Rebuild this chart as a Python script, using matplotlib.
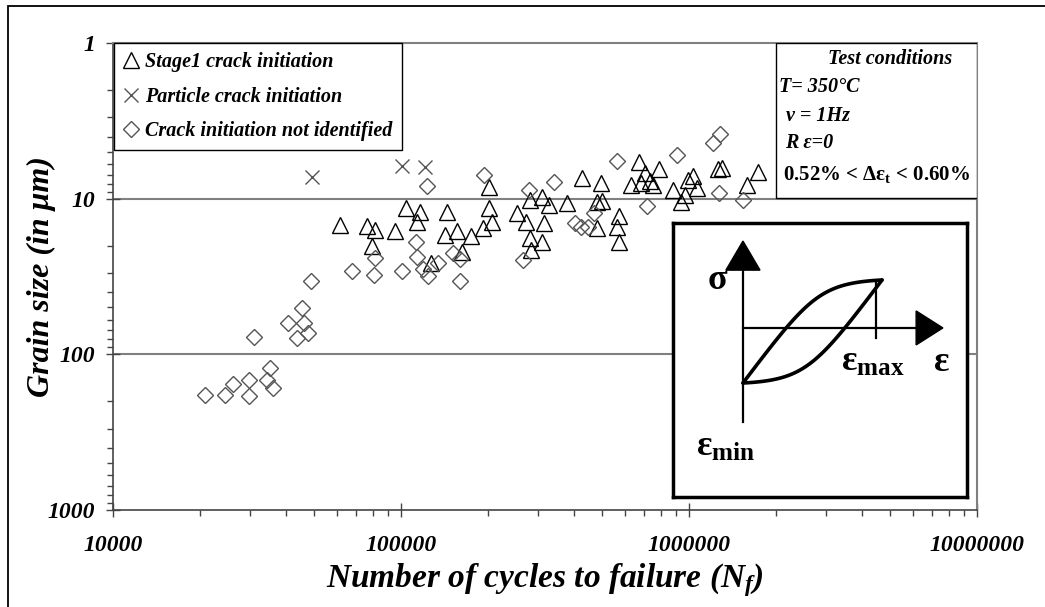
import numpy as np
import matplotlib.pyplot as plt
from matplotlib.patches import Rectangle, Polygon
from matplotlib.ticker import NullFormatter

plt.rcParams['mathtext.fontset'] = 'custom'
plt.rcParams['mathtext.rm'] = 'Liberation Serif:bold'
plt.rcParams['mathtext.it'] = 'Liberation Serif:bold:italic'
plt.rcParams['mathtext.bf'] = 'Liberation Serif:bold'

# --- data (cycles to failure, grain size in um) ---
stage1_cycles = [61400, 76200, 81200, 79300, 95300, 104000, 116000, 114000, 144000, 142000,
                 156000, 175000, 163000, 127000, 202000, 202000, 207000, 193000, 253000, 272000,
                 314000, 281000, 309000, 327000, 377000, 281000, 309000, 283000, 425000, 495000,
                 480000, 499000, 571000, 562000, 480000, 571000, 670000, 787000, 703000, 629000,
                 681000, 732000, 750000, 1030000, 993000, 1070000, 880000, 969000, 938000, 1260000,
                 1300000, 1740000, 1590000]
stage1_grain = [14.8, 15.0, 15.9, 20.1, 16.1, 11.5, 12.2, 14.1, 12.2, 17.1,
                16.1, 17.4, 22.0, 25.9, 8.41, 11.5, 14.1, 15.4, 12.4, 14.1,
                14.3, 10.2, 9.75, 11.0, 10.7, 17.9, 19.0, 21.4, 7.36, 7.93,
                10.5, 10.3, 12.9, 15.2, 15.4, 19.0, 5.81, 6.45, 6.84, 8.17,
                7.93, 7.70, 8.17, 7.15, 7.58, 8.54, 8.79, 9.47, 10.5, 6.45,
                6.34, 6.74, 8.17]

particle_cycles = [49000, 100500, 121000]
particle_grain = [7.26, 6.17, 6.26]

unknown_cycles = [20900, 24500, 26100, 29700, 29700, 35100, 34200, 35900, 30900, 40500,
                  45300, 46100, 43500, 47500, 48700, 67600, 80600, 81200, 100800, 113000,
                  114000, 119000, 124000, 134000, 152000, 160000, 160000, 123000, 194000, 278000,
                  340000, 265000, 402000, 422000, 446000, 468000, 562000, 714000, 908000, 1270000,
                  1210000, 1280000, 1540000]
unknown_grain = [182, 182, 155, 146, 185, 122, 146, 164, 77.3, 62.9,
                 50.3, 62.9, 78.5, 72.9, 33.8, 29.1, 30.9, 24.0, 29.1, 19.0,
                 23.7, 28.3, 31.4, 25.9, 22.3, 24.4, 33.8, 8.28, 7.04, 8.79,
                 7.81, 24.8, 14.3, 15.2, 15.2, 12.4, 5.73, 11.1, 5.24, 9.19,
                 4.39, 3.84, 10.2]

x_ticks = [1e4, 1e5, 1e6, 1e7]
x_tick_labels = ['10000', '100000', '1000000', '10000000']
y_ticks = [1, 10, 100, 1000]
y_tick_labels = ['1', '10', '100', '1000']

serif_bi = dict(family='Liberation Serif', weight='bold', style='italic')

fig = plt.figure(figsize=(10.45, 6.07), dpi=100)
ax = fig.add_axes([113 / 1045, 1 - 510 / 607, 864 / 1045, 467 / 607])

ax.plot(stage1_cycles, stage1_grain, linestyle='none', marker='^', markersize=11,
        markerfacecolor='none', markeredgecolor='black', markeredgewidth=1.0,
        label='Stage1 crack initiation')
ax.plot(particle_cycles, particle_grain, linestyle='none', marker='x', markersize=10,
        markeredgecolor='#555555', markeredgewidth=1.0, label='Particle crack initiation')
ax.plot(unknown_cycles, unknown_grain, linestyle='none', marker='D', markersize=8,
        markerfacecolor='none', markeredgecolor='#555555', markeredgewidth=1.0,
        label='Crack initiation not identified')

ax.set_xscale('log')
ax.set_yscale('log')
ax.set_xlim(1e4, 1e7)
ax.set_ylim(1000, 1)

ax.set_xticks(x_ticks)
ax.set_xticklabels(x_tick_labels, fontsize=17, **serif_bi)
ax.set_yticks(y_ticks)
ax.set_yticklabels(y_tick_labels, fontsize=17, **serif_bi)
ax.xaxis.set_minor_formatter(NullFormatter())
ax.yaxis.set_minor_formatter(NullFormatter())
ax.tick_params(axis='both', which='major', direction='inout', length=10, width=1, color='#444444')
ax.tick_params(axis='x', which='major', pad=13)
ax.tick_params(axis='y', which='major', pad=8)
ax.tick_params(axis='both', which='minor', direction='out', length=4, width=1, color='#444444')

for y in [10, 100]:
    ax.axhline(y, color='#808080', linewidth=1.5, zorder=0)

for side in ['left', 'bottom']:
    ax.spines[side].set_color('#444444')
    ax.spines[side].set_linewidth(1.2)
for side in ['top', 'right']:
    ax.spines[side].set_color('#808080')
    ax.spines[side].set_linewidth(1.5)

ax.set_xlabel('Number of cycles to failure ($N_f$)', fontsize=24, labelpad=4, **serif_bi)
ax.set_ylabel('Grain size (in μm)', fontsize=23, **serif_bi)
ax.yaxis.set_label_coords(-0.066, 0.5)

leg = ax.legend(loc='upper left', bbox_to_anchor=(0.001, 1.0), borderaxespad=0,
                frameon=True, fancybox=False, edgecolor='black', framealpha=1,
                handlelength=0.8, handletextpad=0.3, labelspacing=0.72, borderpad=0.45,
                prop=dict(size=14.5, **serif_bi))
leg.get_frame().set_linewidth(1.0)

# test conditions box
ax.add_patch(Rectangle((0.767, 0.668), 0.233, 0.332, transform=ax.transAxes,
                       facecolor='white', edgecolor='black', linewidth=1.0, zorder=3))
ax.text(0.899, 0.966, 'Test conditions', transform=ax.transAxes, ha='center', va='center',
        fontsize=14.5, zorder=4, **serif_bi)
ax.text(0.771, 0.906, 'T= 350°C', transform=ax.transAxes, ha='left', va='center',
        fontsize=14.5, zorder=4, **serif_bi)
ax.text(0.779, 0.844, 'ν = 1Hz', transform=ax.transAxes, ha='left', va='center',
        fontsize=14.5, zorder=4, **serif_bi)
ax.text(0.778, 0.786, 'R ε=0', transform=ax.transAxes, ha='left', va='center',
        fontsize=14.5, zorder=4, **serif_bi)
ax.text(0.775, 0.719, '0.52% < Δε$_\\mathregular{t}$ < 0.60%', transform=ax.transAxes,
        ha='left', va='center', fontsize=15, zorder=4,
        family='Liberation Serif', weight='bold')

# inset: schematic hysteresis loop
ins = fig.add_axes([673 / 1045, 1 - 497 / 607, 294 / 1045, 274 / 607])
ins.set_xlim(0, 1)
ins.set_ylim(1, 0)
ins.set_xticks([])
ins.set_yticks([])
for s in ins.spines.values():
    s.set_linewidth(2.5)
    s.set_color('black')

eps_min = (0.238, 0.584)
eps_max = (0.711, 0.208)
ctrl_up = [(0.46, 0.27), (0.50, 0.22)]
t = np.linspace(0, 1, 100)[:, None]


def bezier(p0, p1, p2, p3):
    p0, p1, p2, p3 = map(np.array, (p0, p1, p2, p3))
    return (1 - t) ** 3 * p0 + 3 * (1 - t) ** 2 * t * p1 + 3 * (1 - t) * t ** 2 * p2 + t ** 3 * p3


c = (np.array(eps_min) + np.array(eps_max)) / 2
upper = bezier(eps_min, ctrl_up[0], ctrl_up[1], eps_max)
lower = bezier(eps_min, 2 * c - ctrl_up[1], 2 * c - ctrl_up[0], eps_max)
ins.plot(upper[:, 0], upper[:, 1], color='black', linewidth=2.6, solid_capstyle='round')
ins.plot(lower[:, 0], lower[:, 1], color='black', linewidth=2.6, solid_capstyle='round')

# axes of the schematic
ins.plot([0.238, 0.238], [0.726, 0.17], color='black', linewidth=1.6)
ins.plot([0.238, 0.83], [0.383, 0.383], color='black', linewidth=1.6)
ins.add_patch(Polygon([(0.238, 0.066), (0.18, 0.172), (0.296, 0.172)], closed=True, color='black'))
ins.add_patch(Polygon([(0.918, 0.383), (0.827, 0.321), (0.827, 0.445)], closed=True, color='black'))
ins.plot([0.69, 0.69], [0.215, 0.42], color='black', linewidth=1.6)

ins.text(0.15, 0.21, 'σ', ha='center', va='center', fontsize=26, family='Liberation Serif', weight='bold')
ins.text(0.915, 0.51, 'ε', ha='center', va='center', fontsize=26, family='Liberation Serif', weight='bold')
ins.text(0.68, 0.51, 'ε$_\\mathregular{max}$', ha='center', va='center', fontsize=26,
         family='Liberation Serif', weight='bold')
ins.text(0.18, 0.82, 'ε$_\\mathregular{min}$', ha='center', va='center', fontsize=26,
         family='Liberation Serif', weight='bold')

# outer frame (left and top visible)
fig.patches.append(Rectangle((8 / 1045, -0.1), 1.2, 1.1 - 6 / 607, transform=fig.transFigure,
                             fill=False, edgecolor='black', linewidth=1.3))

fig.savefig('out.png', dpi=100)
